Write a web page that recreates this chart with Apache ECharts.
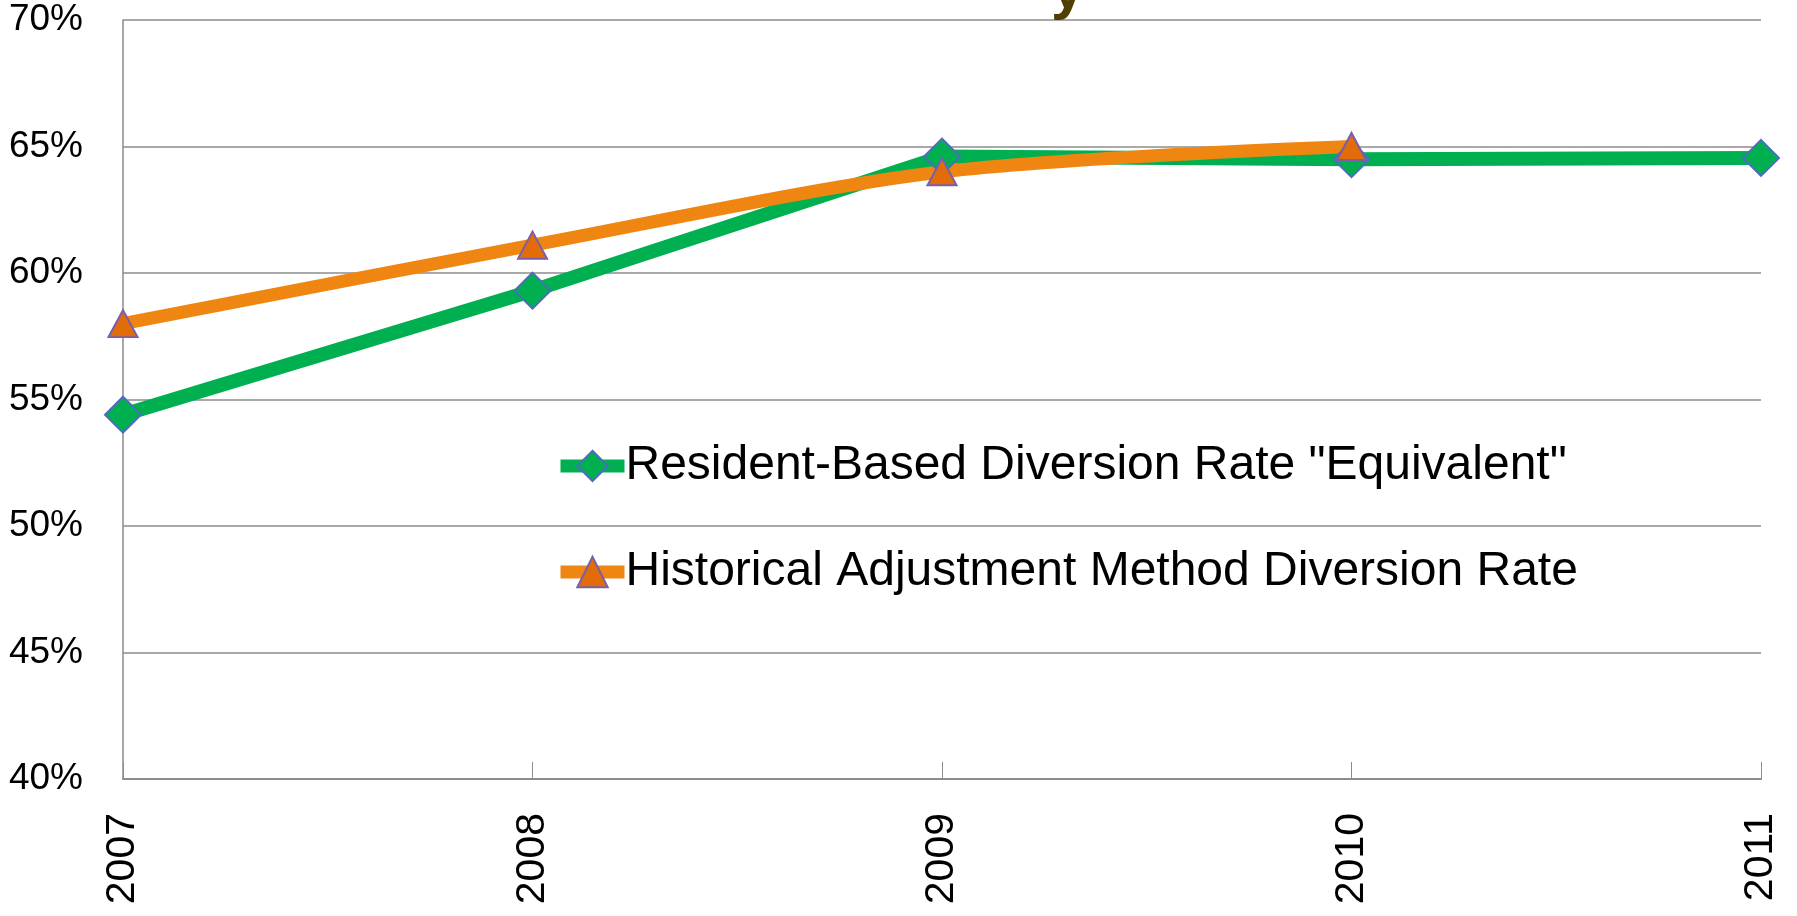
<!DOCTYPE html>
<html>
<head>
<meta charset="utf-8">
<script src="https://cdn.jsdelivr.net/npm/echarts@6/dist/echarts.min.js"></script>
<style>
html, body { margin: 0; padding: 0; background: #fff; }
#chart { width: 1797px; height: 916px; }
</style>
</head>
<body>
<div id="chart"></div>
<script>
var years = ["2007", "2008", "2009", "2010", "2011"];
var residentRate = [0.544, 0.593, 0.646, 0.645, 0.6455];
var historicalRate = [0.580, 0.611, 0.640, 0.650, null];
var seriesNames = ['Resident-Based Diversion Rate "Equivalent"', "Historical Adjustment Method Diversion Rate"];

var font = "Liberation Sans";
var chart = echarts.init(document.getElementById("chart"));
chart.setOption({
    animation: false,
    title: {
        text: "y",
        left: 1046,
        top: -44,
        textStyle: { fontFamily: font, fontSize: 60, fontWeight: "bold", color: "#4f3f00" }
    },
    grid: { left: 123, right: 36, top: 20, bottom: 137 },
    legend: {
        orient: "vertical",
        left: 549,
        top: 437,
        itemWidth: 64,
        itemHeight: 38,
        itemGap: 58,
        lineStyle: { width: 13 },
        textStyle: { fontFamily: font, fontSize: 48, color: "#000", padding: [0, 0, 0, -4] },
        data: seriesNames
    },
    xAxis: {
        type: "category",
        boundaryGap: false,
        data: years,
        axisLine: { lineStyle: { color: "#8c8c8c", width: 2 } },
        axisTick: { inside: true, length: 17, lineStyle: { color: "#8c8c8c", width: 1 } },
        axisLabel: { rotate: 90, margin: 34, fontFamily: font, fontSize: 41, color: "#000" }
    },
    yAxis: {
        type: "value",
        min: 0.4,
        max: 0.7,
        interval: 0.05,
        axisLine: { show: true, lineStyle: { color: "#8c8c8c", width: 1.5 } },
        axisTick: { show: false },
        splitLine: { lineStyle: { color: "#8c8c8c", width: 1.5 } },
        axisLabel: {
            margin: 40, fontFamily: font, fontSize: 37, color: "#000",
            formatter: function (v) { return Math.round(v * 100) + "%"; }
        }
    },
    series: [
        {
            name: seriesNames[0],
            type: "line",
            data: residentRate,
            symbol: "diamond",
            symbolSize: [36, 36],
            lineStyle: { color: "#00b050", width: 14 },
            itemStyle: { color: "#00b050", borderColor: "#4f6bbf", borderWidth: 2 }
        },
        {
            name: seriesNames[1],
            type: "line",
            data: historicalRate,
            smooth: 0.3,
            symbol: "triangle",
            symbolSize: [29, 27],
            lineStyle: { color: "#f08612", width: 13 },
            itemStyle: { color: "#e36c0a", borderColor: "#7a5fa8", borderWidth: 2 }
        }
    ]
});
</script>
</body>
</html>
